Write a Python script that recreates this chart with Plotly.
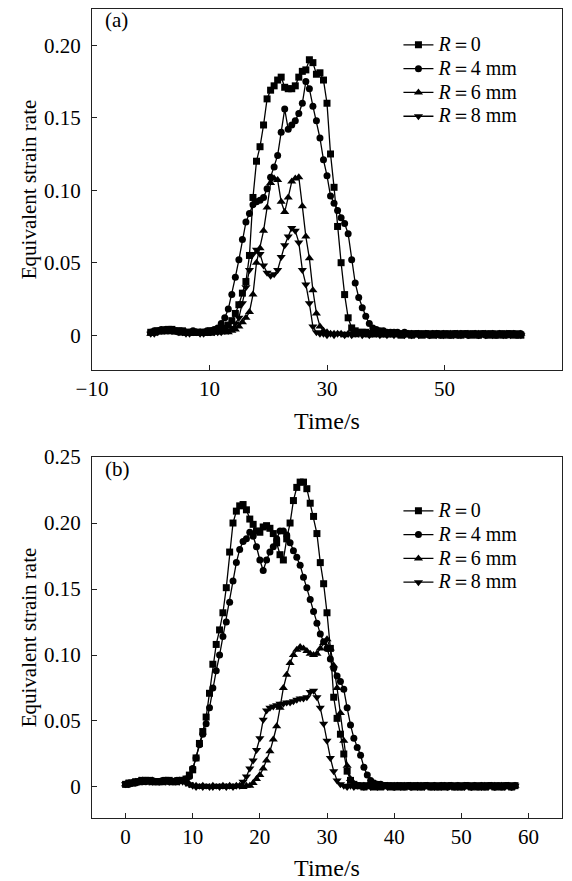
import plotly.graph_objects as go

# ---------------- data ----------------
series_names = ["<i>R</i>＝0", "<i>R</i>＝4 mm", "<i>R</i>＝6 mm", "<i>R</i>＝8 mm"]
marker_symbols = ["square", "circle", "triangle-up", "triangle-down"]

# panel (a): sampling every 0.6 s, 0 .. 63 s
time_a = [round(0.6 * i, 1) for i in range(106)]
r0_a = [
    0.002, 0.002, 0.003, 0.003, 0.003, 0.004, 0.004, 0.003, 0.003, 0.003,
    0.002, 0.002, 0.002, 0.002, 0.002, 0.002, 0.002, 0.003, 0.003, 0.003,
    0.004, 0.005, 0.007, 0.010, 0.015, 0.021, 0.029, 0.037, 0.055, 0.095,
    0.120, 0.130, 0.145, 0.163, 0.169, 0.172, 0.176, 0.178, 0.171, 0.170,
    0.170, 0.172, 0.178, 0.182, 0.183, 0.190, 0.188, 0.180, 0.181, 0.176,
    0.160, 0.125, 0.102, 0.075, 0.050, 0.028, 0.012, 0.005, 0.003, 0.002,
    0.002, 0.002, 0.001, 0.001, 0.002, 0.001, 0.001, 0.001, 0.001, 0.001,
    0.001, 0.000, 0.001, 0.001, 0.000, 0.001, 0.001, 0.000, 0.001, 0.001,
    0.000, 0.001, 0.001, 0.000, 0.001, 0.000, 0.001, 0.001, 0.000, 0.001,
    0.001, 0.000, 0.001, 0.000, 0.001, 0.001, 0.000, 0.001, 0.000, 0.001,
    0.000, 0.001, 0.001, 0.000, 0.001, 0.000,
]
r4_a = [
    0.002, 0.003, 0.003, 0.004, 0.004, 0.003, 0.003, 0.003, 0.002, 0.002,
    0.002, 0.002, 0.003, 0.002, 0.002, 0.002, 0.003, 0.003, 0.004, 0.005,
    0.008, 0.012, 0.018, 0.028, 0.040, 0.052, 0.066, 0.078, 0.084, 0.090,
    0.092, 0.093, 0.095, 0.101, 0.109, 0.116, 0.124, 0.140, 0.156, 0.142,
    0.145, 0.148, 0.153, 0.160, 0.175, 0.170, 0.158, 0.148, 0.136, 0.121,
    0.110, 0.096, 0.091, 0.086, 0.081, 0.077, 0.070, 0.052, 0.036, 0.026,
    0.019, 0.013, 0.008, 0.005, 0.004, 0.003, 0.003, 0.002, 0.002, 0.002,
    0.002, 0.001, 0.002, 0.001, 0.001, 0.001, 0.001, 0.001, 0.001, 0.000,
    0.001, 0.001, 0.000, 0.001, 0.001, 0.000, 0.001, 0.000, 0.001, 0.001,
    0.000, 0.001, 0.001, 0.000, 0.001, 0.000, 0.001, 0.001, 0.000, 0.001,
    0.001, 0.000, 0.001, 0.001, 0.000, 0.001,
]
r6_a = [
    0.001, 0.002, 0.002, 0.003, 0.003, 0.003, 0.002, 0.002, 0.002, 0.002,
    0.002, 0.001, 0.001, 0.002, 0.002, 0.001, 0.001, 0.001, 0.002, 0.002,
    0.002, 0.002, 0.002, 0.003, 0.004, 0.006, 0.009, 0.012, 0.016, 0.028,
    0.050, 0.060, 0.072, 0.088, 0.105, 0.108, 0.107, 0.092, 0.085, 0.095,
    0.106, 0.108, 0.109, 0.089, 0.068, 0.053, 0.031, 0.015, 0.006, 0.003,
    0.002, 0.001, 0.001, 0.001, 0.001, 0.000, 0.001, 0.001, 0.000, 0.001,
    0.001, 0.000, 0.001, 0.000, 0.001, 0.001, 0.000, 0.001, 0.000, 0.001,
    0.001, 0.000, 0.000, 0.001, 0.001, 0.000, 0.001, 0.000, 0.001, 0.000,
    0.001, 0.001, 0.000, 0.001, 0.000, 0.001, 0.000, 0.001, 0.001, 0.000,
    0.001, 0.000, 0.001, 0.001, 0.000, 0.001, 0.000, 0.001, 0.000, 0.001,
    0.000, 0.001, 0.000, 0.001, 0.000, 0.001,
]
r8_a = [
    0.001, 0.001, 0.002, 0.003, 0.003, 0.004, 0.003, 0.003, 0.002, 0.002,
    0.001, 0.001, 0.002, 0.002, 0.001, 0.001, 0.002, 0.002, 0.002, 0.002,
    0.002, 0.003, 0.003, 0.005, 0.008, 0.012, 0.022, 0.033, 0.045, 0.056,
    0.059, 0.056, 0.048, 0.043, 0.041, 0.042, 0.045, 0.054, 0.062, 0.068,
    0.074, 0.072, 0.064, 0.045, 0.035, 0.022, 0.006, 0.002, 0.001, 0.001,
    0.000, 0.001, 0.000, 0.001, 0.001, 0.000, 0.001, 0.000, 0.001, 0.001,
    0.000, 0.001, 0.000, 0.001, 0.001, 0.000, 0.001, 0.000, 0.001, 0.000,
    0.001, 0.001, 0.000, 0.001, 0.000, 0.001, 0.000, 0.001, 0.001, 0.000,
    0.001, 0.000, 0.001, 0.000, 0.001, 0.001, 0.000, 0.001, 0.000, 0.001,
    0.000, 0.001, 0.001, 0.000, 0.001, 0.000, 0.001, 0.000, 0.001, 0.001,
    0.000, 0.001, 0.000, 0.001, 0.001, 0.000,
]

# panel (b): sampling every 0.5 s, 0 .. 58 s
time_b = [round(0.5 * i, 1) for i in range(117)]
r0_b = [
    0.002, 0.003, 0.003, 0.004, 0.004, 0.005, 0.005, 0.005, 0.004, 0.004,
    0.004, 0.004, 0.005, 0.005, 0.004, 0.004, 0.005, 0.005, 0.006, 0.009,
    0.013, 0.022, 0.033, 0.042, 0.053, 0.071, 0.093, 0.108, 0.119, 0.132,
    0.151, 0.178, 0.200, 0.209, 0.213, 0.214, 0.210, 0.203, 0.199, 0.194,
    0.193, 0.197, 0.198, 0.196, 0.192, 0.185, 0.176, 0.172, 0.188, 0.200,
    0.217, 0.227, 0.231, 0.231, 0.226, 0.215, 0.205, 0.192, 0.170, 0.154,
    0.132, 0.105, 0.068, 0.052, 0.040, 0.025, 0.012, 0.005, 0.002, 0.001,
    0.001, 0.000, 0.001, 0.001, 0.000, 0.001, 0.000, 0.001, 0.001, 0.000,
    0.001, 0.000, 0.001, 0.000, 0.001, 0.001, 0.000, 0.001, 0.000, 0.001,
    0.001, 0.000, 0.001, 0.000, 0.001, 0.000, 0.001, 0.001, 0.000, 0.001,
    0.000, 0.001, 0.001, 0.000, 0.001, 0.000, 0.001, 0.000, 0.001, 0.001,
    0.000, 0.001, 0.000, 0.001, 0.001, 0.000, 0.001,
]
r4_b = [
    0.002, 0.002, 0.003, 0.003, 0.004, 0.004, 0.004, 0.005, 0.005, 0.004,
    0.004, 0.005, 0.005, 0.004, 0.004, 0.005, 0.005, 0.005, 0.006, 0.008,
    0.014, 0.022, 0.032, 0.040, 0.048, 0.060, 0.075, 0.088, 0.100, 0.114,
    0.125, 0.140, 0.156, 0.170, 0.180, 0.186, 0.188, 0.193, 0.190, 0.182,
    0.172, 0.164, 0.172, 0.178, 0.182, 0.188, 0.194, 0.194, 0.191, 0.185,
    0.179, 0.174, 0.168, 0.159, 0.151, 0.142, 0.133, 0.124, 0.116, 0.110,
    0.105, 0.097, 0.090, 0.084, 0.080, 0.074, 0.060, 0.047, 0.037, 0.030,
    0.024, 0.015, 0.009, 0.005, 0.003, 0.002, 0.002, 0.001, 0.001, 0.001,
    0.000, 0.001, 0.001, 0.000, 0.001, 0.000, 0.001, 0.001, 0.000, 0.001,
    0.001, 0.000, 0.001, 0.000, 0.001, 0.001, 0.000, 0.001, 0.000, 0.001,
    0.000, 0.001, 0.001, 0.000, 0.001, 0.000, 0.001, 0.000, 0.001, 0.001,
    0.000, 0.001, 0.000, 0.001, 0.001, 0.000, 0.001,
]
r6_b = [
    0.002, 0.003, 0.003, 0.004, 0.005, 0.005, 0.004, 0.004, 0.005, 0.004,
    0.004, 0.004, 0.005, 0.004, 0.004, 0.004, 0.005, 0.004, 0.004, 0.002,
    0.001, 0.001, 0.000, 0.001, 0.000, 0.000, 0.001, 0.000, 0.000, 0.001,
    0.000, 0.001, 0.000, 0.001, 0.001, 0.000, 0.001, 0.001, 0.003, 0.006,
    0.009, 0.014, 0.020, 0.027, 0.036, 0.046, 0.060, 0.075, 0.085, 0.094,
    0.100, 0.104, 0.106, 0.105, 0.103, 0.101, 0.100, 0.101, 0.105, 0.109,
    0.112, 0.105, 0.092, 0.075, 0.056, 0.035, 0.016, 0.006, 0.002, 0.001,
    0.000, 0.001, 0.000, 0.001, 0.001, 0.000, 0.001, 0.000, 0.001, 0.000,
    0.001, 0.001, 0.000, 0.001, 0.000, 0.001, 0.000, 0.001, 0.001, 0.000,
    0.001, 0.000, 0.001, 0.000, 0.001, 0.001, 0.000, 0.001, 0.000, 0.001,
    0.000, 0.001, 0.001, 0.000, 0.001, 0.000, 0.001, 0.001, 0.000, 0.001,
    0.001, 0.000, 0.001, 0.000, 0.001, 0.000, 0.001,
]
r8_b = [
    0.002, 0.002, 0.003, 0.004, 0.004, 0.005, 0.005, 0.004, 0.004, 0.005,
    0.004, 0.005, 0.004, 0.004, 0.005, 0.004, 0.004, 0.004, 0.003, 0.002,
    0.001, 0.000, 0.001, 0.000, 0.001, 0.000, 0.000, 0.001, 0.000, 0.001,
    0.000, 0.001, 0.000, 0.001, 0.001, 0.004, 0.008, 0.014, 0.020, 0.028,
    0.037, 0.051, 0.058, 0.060, 0.061, 0.062, 0.063, 0.063, 0.064, 0.064,
    0.065, 0.066, 0.067, 0.067, 0.068, 0.072, 0.073, 0.068, 0.060, 0.048,
    0.035, 0.022, 0.012, 0.005, 0.002, 0.001, 0.000, 0.001, 0.000, 0.001,
    0.001, 0.000, 0.001, 0.000, 0.001, 0.000, 0.001, 0.001, 0.000, 0.001,
    0.000, 0.001, 0.000, 0.001, 0.001, 0.000, 0.001, 0.000, 0.001, 0.000,
    0.001, 0.001, 0.000, 0.001, 0.000, 0.001, 0.000, 0.001, 0.001, 0.000,
    0.001, 0.000, 0.001, 0.000, 0.001, 0.001, 0.000, 0.001, 0.000, 0.001,
    0.000, 0.001, 0.001, 0.000, 0.001, 0.000, 0.001,
]

xticks_a = [-10, 10, 30, 50, 70]
xticks_b = [0, 10, 20, 30, 40, 50, 60]
yticks_a = [0, 0.05, 0.10, 0.15, 0.20]
yticks_b = [0, 0.05, 0.10, 0.15, 0.20, 0.25]
yticktext_a = ["0", "0.05", "0.10", "0.15", "0.20"]
yticktext_b = ["0", "0.05", "0.10", "0.15", "0.20", "0.25"]

for s in (r0_a, r4_a, r6_a, r8_a):
    assert len(s) == len(time_a)
for s in (r0_b, r4_b, r6_b, r8_b):
    assert len(s) == len(time_b)

# ---------------- figure ----------------
SERIF = "Liberation Serif"
sizes = [7, 7, 8, 8]
# legend rows are spaced by the legend font size; the label text itself is drawn larger
legend_labels = ["<span style='font-size:20px'>%s</span>" % n for n in series_names]

fig = go.Figure()
for name, sym, sz, ys in zip(legend_labels, marker_symbols, sizes, (r0_a, r4_a, r6_a, r8_a)):
    fig.add_trace(go.Scatter(
        x=time_a, y=ys, name=name, mode="lines+markers",
        line=dict(color="black", width=1.3),
        marker=dict(symbol=sym, size=sz, color="black"),
        xaxis="x", yaxis="y", legend="legend",
    ))
for name, sym, sz, ys in zip(legend_labels, marker_symbols, sizes, (r0_b, r4_b, r6_b, r8_b)):
    fig.add_trace(go.Scatter(
        x=time_b, y=ys, name=name, mode="lines+markers",
        line=dict(color="black", width=1.3),
        marker=dict(symbol=sym, size=sz, color="black"),
        xaxis="x2", yaxis="y2", legend="legend2",
    ))

axis_common = dict(
    showline=True, linecolor="#222", linewidth=1, mirror=True,
    ticks="inside", ticklen=5, tickwidth=1, tickcolor="#222",
    showgrid=False, zeroline=False,
    tickfont=dict(family=SERIF, size=21, color="black"),
    automargin=False,
)
xtitle_font = dict(family=SERIF, size=24, color="black")
ytitle_font = dict(family=SERIF, size=21, color="black")
legend_font = dict(family=SERIF, size=16, color="black")

# the page body adds an 8 px offset, so the figure is 8 px smaller than the window
fig.update_layout(
    width=564, height=873,
    paper_bgcolor="white", plot_bgcolor="white",
    margin=dict(l=84, r=10, t=1, b=63),
    font=dict(family=SERIF, color="black"),
    xaxis=dict(domain=[0, 1], anchor="y", range=[-10, 70], tickvals=xticks_a,
               title=dict(text="Time/s", font=xtitle_font, standoff=12), **axis_common),
    yaxis=dict(domain=[0.5538, 1], anchor="x", range=[-0.024, 0.225],
               tickvals=yticks_a, ticktext=yticktext_a, ticklabelstandoff=6,
               title=dict(text="Equivalent strain rate", font=ytitle_font, standoff=1), **axis_common),
    xaxis2=dict(domain=[0, 1], anchor="y2", range=[-5, 65], tickvals=xticks_b,
                title=dict(text="Time/s", font=xtitle_font, standoff=12), **axis_common),
    yaxis2=dict(domain=[0, 0.4462], anchor="x2", range=[-0.0235, 0.25],
                tickvals=yticks_b, ticktext=yticktext_b, ticklabelstandoff=6,
                title=dict(text="Equivalent strain rate", font=ytitle_font, standoff=1), **axis_common),
    legend=dict(x=0.652, y=0.9766, xanchor="left", yanchor="top",
                bgcolor="rgba(0,0,0,0)", font=legend_font,
                tracegroupgap=0, itemwidth=30),
    legend2=dict(x=0.652, y=0.4006, xanchor="left", yanchor="top",
                 bgcolor="rgba(0,0,0,0)", font=legend_font,
                 tracegroupgap=0, itemwidth=30),
    annotations=[
        dict(text="(a)", xref="x domain", yref="y domain", x=0.023, y=0.97,
             xanchor="left", yanchor="middle", showarrow=False,
             font=dict(family=SERIF, size=21, color="black")),
        dict(text="(b)", xref="x2 domain", yref="y2 domain", x=0.023, y=0.967,
             xanchor="left", yanchor="middle", showarrow=False,
             font=dict(family=SERIF, size=21, color="black")),
    ],
)

fig.write_html("out.html")
